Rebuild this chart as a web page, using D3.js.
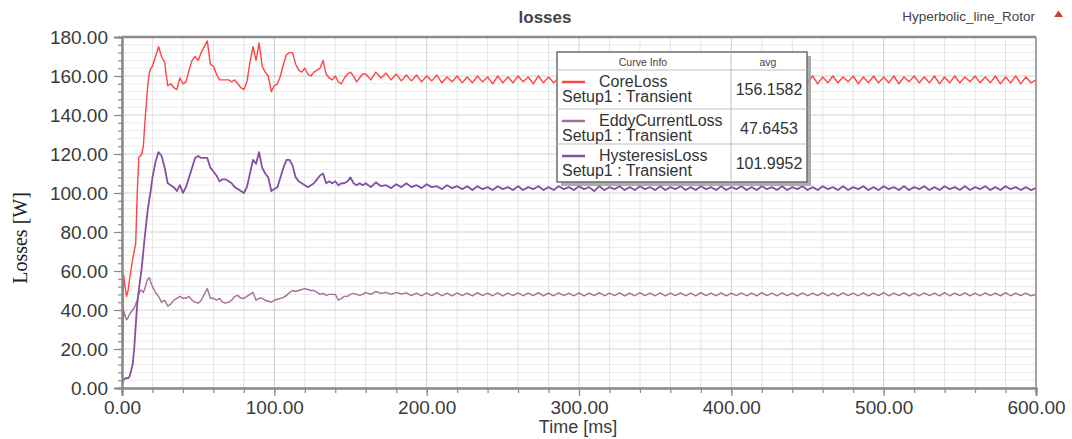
<!DOCTYPE html>
<html>
<head>
<meta charset="utf-8">
<script src="https://cdn.jsdelivr.net/npm/d3@7"></script>
<style>
  body { margin: 0; background: #fff; }
  svg { display: block; }
  text { font-family: "Liberation Sans", Arial, sans-serif; }
</style>
</head>
<body>
<svg id="chart" width="1072" height="439"></svg>
<script>
// ---- sampling grid (ms): fine during the ramp-up, coarser later ----
const timeRamp = d3.range(0, 20, 1);            // 20 samples
const timeSettling = d3.range(20, 160, 2);      // 70 samples
const timeSteady = d3.range(160, 600.001, 10 / 3); // 133 samples
const timeMs = [].concat(timeRamp, timeSettling, timeSteady);

// ---- CoreLoss [W] ----
const coreLossRamp = [0, 58, 52, 47, 50, 56, 61, 66, 70, 74,
  100, 118, 119, 120, 124, 136, 146, 156, 162, 164];
const coreLossSettling = [165, 170, 175, 170, 167, 155, 156, 154, 153, 159,
  156, 157, 163, 168, 170, 168, 172, 175, 178, 166,
  165, 161, 158, 158, 158, 158, 157, 158, 156, 154,
  153, 157, 167, 175, 168, 177, 165, 162, 160, 152,
  155, 156, 160, 166, 171, 172, 172, 166, 163, 162,
  164, 161, 160, 162, 163, 164, 168, 161, 159, 158,
  160, 157, 156, 159, 161, 162, 160, 157, 159, 161];
const coreLossSteady = [161, 158, 162, 159, 161.5, 158, 161, 157.5, 160.5, 157.5,
  160.5, 157, 160, 157.5, 160.5, 156.5, 159.5, 157, 160, 156.5,
  159.5, 156.5, 160, 157, 159.5, 156, 160, 156.5, 159.5, 156.5,
  160, 157, 159.5, 156, 160, 156.5, 159.5, 156.5, 159, 157,
  160, 156.5, 159.5, 156.5, 160, 156, 159.5, 157, 160, 156.5,
  159.5, 156.5, 160, 156, 159.5, 157, 160, 156.5, 159.5, 157,
  160, 156.5, 159, 156.5, 160, 156, 159.5, 156.5, 160, 156.5,
  159.5, 157, 160, 156.5, 159.5, 156.5, 160, 156, 159.5, 156.5,
  160, 156, 159.5, 157, 160, 156.5, 159.5, 156.5, 160, 156,
  159.5, 156.5, 160, 156.5, 159.5, 157, 160, 156, 159.5, 156.5,
  160, 156.5, 159.5, 156.5, 160, 156, 159.5, 157, 160, 156.5,
  159.5, 156.5, 160, 156, 159.5, 156.5, 160, 156.5, 159.5, 157,
  160, 156.5, 159.5, 156.5, 160, 156, 159.5, 156.5, 160, 156,
  159.5, 156.5, 158];

// ---- EddyCurrentLoss [W] ----
const eddyLossRamp = [0, 40, 37, 35, 36, 38, 39, 40, 41, 43,
  45, 48, 50, 50, 49, 51, 54, 56, 56.5, 54];
const eddyLossSettling = [52, 49, 47, 44, 45, 42, 43, 45, 46, 47,
  46, 46, 47, 45, 44, 43.5, 45, 48, 51, 46,
  46, 45, 46, 44, 43.5, 44, 45, 47, 47.5, 46,
  46, 47, 48, 49, 45, 46, 46, 45, 44.5, 44,
  45, 45.5, 46, 46.5, 47.5, 49, 50, 49.5, 50, 50.5,
  51, 50.5, 50, 50, 49, 48, 48.5, 47.5, 48, 48,
  48, 45, 46, 47, 47, 48, 48.5, 48, 47.5, 48];
const eddyLossSteady = [49, 48, 49.5, 48.5, 49, 48, 49, 48.2, 48.8, 47.4,
  48.7, 47.3, 48.8, 47.4, 48.9, 47.3, 48.6, 47.2, 48.8, 47.4,
  48.7, 47.2, 48.9, 47.4, 48.6, 47.3, 48.8, 47.2, 48.7, 47.4,
  48.8, 47.3, 48.6, 47.4, 48.9, 47.2, 48.7, 47.3, 48.8, 47.4,
  48.6, 47.3, 48.8, 47.2, 48.7, 47.4, 48.9, 47.3, 48.6, 47.4,
  48.8, 47.2, 48.7, 47.3, 48.9, 47.4, 48.6, 47.3, 48.8, 47.2,
  48.7, 47.4, 48.8, 47.3, 48.6, 47.2, 48.9, 47.4, 48.7, 47.3,
  48.8, 47.2, 48.6, 47.4, 48.8, 47.3, 48.7, 47.2, 48.9, 47.4,
  48.6, 47.3, 48.8, 47.4, 48.7, 47.2, 48.8, 47.3, 48.6, 47.4,
  48.9, 47.3, 48.7, 47.2, 48.8, 47.4, 48.6, 47.3, 48.8, 47.2,
  48.7, 47.4, 48.9, 47.3, 48.6, 47.4, 48.8, 47.2, 48.7, 47.3,
  48.8, 47.4, 48.6, 47.2, 48.9, 47.3, 48.7, 47.4, 48.8, 47.2,
  48.6, 47.3, 48.8, 47.4, 48.7, 47.2, 48.9, 47.3, 48.6, 47.4,
  48.7, 47.3, 48];

// ---- HysteresisLoss [W] ----
const hystLossRamp = [2, 4, 5, 5, 5, 6, 9, 12, 20, 32,
  43, 50, 56, 62, 70, 78, 85, 92, 97, 102];
const hystLossSettling = [108, 116, 121, 119, 113, 105, 104, 103, 101, 104,
  100, 103, 108, 113, 118, 119, 118, 118, 118, 113,
  111, 109, 106, 107, 107, 106, 105, 103, 102, 101,
  100, 103, 110, 117, 115, 121, 113, 110, 108, 101,
  102, 103, 108, 113, 117, 117, 114, 108, 106, 105,
  104, 103, 104, 105, 107, 109, 110, 105, 106, 105,
  106, 104, 105, 105, 106, 108, 105, 104, 105, 104];
const hystLossSteady = [105, 103, 105.5, 103.5, 104, 102.5, 104.5, 103, 105, 103,
  104, 102.5, 104.5, 103, 103.5, 102, 104, 102.5, 103.5, 102,
  103.5, 101.5, 103.5, 102, 103, 101.5, 103.5, 102, 103, 101.5,
  103.5, 101.5, 103, 102, 103.5, 101.5, 103, 101.5, 103.5, 102,
  103, 101.5, 103.5, 102, 103, 101, 103.5, 101.5, 103, 102,
  103.5, 101.5, 103, 101.5, 103.5, 102, 103, 101.5, 103.5, 101.5,
  103, 102, 103.5, 101.5, 103, 101.5, 103.5, 102, 103, 101.5,
  103.5, 101.5, 103, 102, 103.5, 101.5, 103, 101.5, 103.5, 102,
  103, 101.5, 103.5, 101.5, 103, 102, 103.5, 101.5, 103, 101.5,
  103.5, 102, 103, 101.5, 103.5, 101.5, 103, 102, 103.5, 101.5,
  103, 101.5, 103.5, 102, 103, 101.5, 103.5, 101.5, 103, 102,
  103.5, 101.5, 103, 101.5, 103.5, 102, 103, 101.5, 103.5, 101.5,
  103, 102, 103.5, 101.5, 103, 101.5, 103.5, 102, 103, 101.5,
  103, 101.5, 102.5];

const coreLoss = [].concat(coreLossRamp, coreLossSettling, coreLossSteady);
const eddyCurrentLoss = [].concat(eddyLossRamp, eddyLossSettling, eddyLossSteady);
const hysteresisLoss = [].concat(hystLossRamp, hystLossSettling, hystLossSteady);

// ---- axes ----
const xMajorTicks = [0, 100, 200, 300, 400, 500, 600];
const xMinorTicks = d3.range(0, 601, 20);
const yMajorTicks = [0, 20, 40, 60, 80, 100, 120, 140, 160, 180];
const yMinorTicks = d3.range(0, 181, 4);

// ---- legend ----
const seriesNames = ["CoreLoss", "EddyCurrentLoss", "HysteresisLoss"];
const seriesSetup = ["Setup1 : Transient", "Setup1 : Transient", "Setup1 : Transient"];
const seriesAvg = ["156.1582", "47.6453", "101.9952"];
const seriesColors = ["#ff4444", "#a2709a", "#8450a0"];
const seriesWidths = [1.4, 1.4, 1.8];

const svg = d3.select("#chart");
const plot = { left: 122, right: 1036, top: 37, bottom: 388 };

const x = d3.scaleLinear().domain([0, 600]).range([plot.left, plot.right]);
const y = d3.scaleLinear().domain([0, 180]).range([plot.bottom, plot.top]);

// grid
const grid = svg.append("g");
grid.selectAll("line.hmin").data(yMinorTicks).join("line")
  .attr("x1", plot.left).attr("x2", plot.right)
  .attr("y1", d => y(d)).attr("y2", d => y(d))
  .attr("stroke", d => d % 20 === 0 ? "#d2d2d2" : "#ececec")
  .attr("stroke-width", 1);
grid.selectAll("line.v").data(xMinorTicks).join("line")
  .attr("x1", d => x(d)).attr("x2", d => x(d))
  .attr("y1", plot.top).attr("y2", plot.bottom)
  .attr("stroke", d => d % 100 === 0 ? "#cfcfcf" : "#e3e3e3")
  .attr("stroke-width", 1);

// curves
svg.append("clipPath").attr("id", "plotClip").append("rect")
  .attr("x", plot.left).attr("y", plot.top - 2)
  .attr("width", plot.right - plot.left).attr("height", plot.bottom - plot.top + 2);

const line = d3.line().x((d, i) => x(timeMs[i])).y(d => y(d));
const curves = svg.append("g").attr("clip-path", "url(#plotClip)");
[eddyCurrentLoss, hysteresisLoss, coreLoss].forEach((series, k) => {
  const idx = [1, 2, 0][k];
  curves.append("path")
    .datum(series)
    .attr("d", line)
    .attr("fill", "none")
    .attr("stroke", seriesColors[idx])
    .attr("stroke-width", seriesWidths[idx])
    .attr("stroke-linejoin", "round");
});

// y axis
const axisColor = "#8a8a8a";
const yAxisMinor = svg.append("g").attr("transform", `translate(${plot.left},0)`)
  .call(d3.axisLeft(y).tickValues(yMinorTicks).tickSize(4).tickFormat(""));
const yAxis = svg.append("g").attr("transform", `translate(${plot.left},0)`)
  .call(d3.axisLeft(y).tickValues(yMajorTicks).tickSize(8).tickPadding(6)
    .tickFormat(d3.format(".2f")));

// x axis
const xAxisMinor = svg.append("g").attr("transform", `translate(0,${plot.bottom})`)
  .call(d3.axisBottom(x).tickValues(xMinorTicks).tickSize(5).tickFormat(""));
const xAxis = svg.append("g").attr("transform", `translate(0,${plot.bottom})`)
  .call(d3.axisBottom(x).tickValues(xMajorTicks).tickSize(8).tickPadding(5)
    .tickFormat(d3.format(".2f")));

[yAxisMinor, yAxis, xAxisMinor, xAxis].forEach(g => {
  g.select(".domain").attr("stroke", axisColor).attr("stroke-width", 2);
  g.selectAll(".tick line").attr("stroke", axisColor).attr("stroke-width", 1.2);
  g.selectAll(".tick text").attr("fill", "#3a3a3a")
    .style("font-size", "19px").style("font-family", "'Liberation Sans', Arial, sans-serif");
});

// frame top / right
svg.append("line").attr("x1", plot.left).attr("x2", plot.right)
  .attr("y1", plot.top).attr("y2", plot.top)
  .attr("stroke", "#8c8c8c").attr("stroke-width", 2.5);
svg.append("line").attr("x1", plot.right).attr("x2", plot.right)
  .attr("y1", plot.top).attr("y2", plot.bottom)
  .attr("stroke", "#8c8c8c").attr("stroke-width", 1.5);

// titles
svg.append("text").attr("x", 545).attr("y", 23).attr("text-anchor", "middle")
  .style("font-size", "17px").style("font-weight", "bold").attr("fill", "#444")
  .text("losses");
svg.append("text").attr("x", 1035).attr("y", 21).attr("text-anchor", "end")
  .style("font-size", "13.5px").attr("fill", "#444")
  .text("Hyperbolic_line_Rotor");
svg.append("path").attr("d", "M1054,17 L1058.5,10.5 L1063,17 Z").attr("fill", "#d23a3a");

svg.append("text").attr("x", 578).attr("y", 433).attr("text-anchor", "middle")
  .style("font-size", "18px").attr("fill", "#3a3a3a")
  .text("Time [ms]");
svg.append("text")
  .attr("transform", "translate(27,238) rotate(-90)")
  .attr("text-anchor", "middle")
  .style("font-family", "'Liberation Serif', 'Times New Roman', serif")
  .style("font-size", "20px").attr("fill", "#222")
  .text("Losses [W]");

// legend table
const lg = { x: 557, y: 52, w: 250, h: 130, col: 731, header: 70, rows: [70, 109, 144, 182] };
const legend = svg.append("g");
legend.append("rect").attr("x", lg.x + 4).attr("y", lg.y + 4).attr("width", lg.w).attr("height", lg.h)
  .attr("fill", "#9a9a9a").attr("opacity", 0.8);
legend.append("rect").attr("x", lg.x).attr("y", lg.y).attr("width", lg.w).attr("height", lg.h)
  .attr("fill", "#fff").attr("stroke", "#6e6e6e").attr("stroke-width", 1.5);
legend.append("line").attr("x1", lg.col).attr("x2", lg.col).attr("y1", lg.y).attr("y2", lg.y + lg.h)
  .attr("stroke", "#bdbdbd");
legend.selectAll("line.sep").data(lg.rows.slice(0, 3)).join("line")
  .attr("x1", lg.x).attr("x2", lg.x + lg.w).attr("y1", d => d).attr("y2", d => d)
  .attr("stroke", "#bdbdbd");
legend.append("text").attr("x", 643).attr("y", 66).attr("text-anchor", "middle")
  .style("font-size", "10.5px").attr("fill", "#444").text("Curve Info");
legend.append("text").attr("x", 768).attr("y", 66).attr("text-anchor", "middle")
  .style("font-size", "10.5px").attr("fill", "#444").text("avg");

seriesNames.forEach((name, i) => {
  const top = lg.rows[i];
  legend.append("line").attr("x1", 562).attr("x2", 585)
    .attr("y1", top + 12).attr("y2", top + 12)
    .attr("stroke", seriesColors[i]).attr("stroke-width", 2.5);
  legend.append("text").attr("x", 599).attr("y", top + 17)
    .style("font-size", "16px").attr("fill", "#333").text(name);
  legend.append("text").attr("x", 562).attr("y", top + 32)
    .style("font-size", "16px").attr("fill", "#333").text(seriesSetup[i]);
  legend.append("text").attr("x", 769).attr("y", top + 25).attr("text-anchor", "middle")
    .style("font-size", "16px").attr("fill", "#333").text(seriesAvg[i]);
});
</script>
</body>
</html>
